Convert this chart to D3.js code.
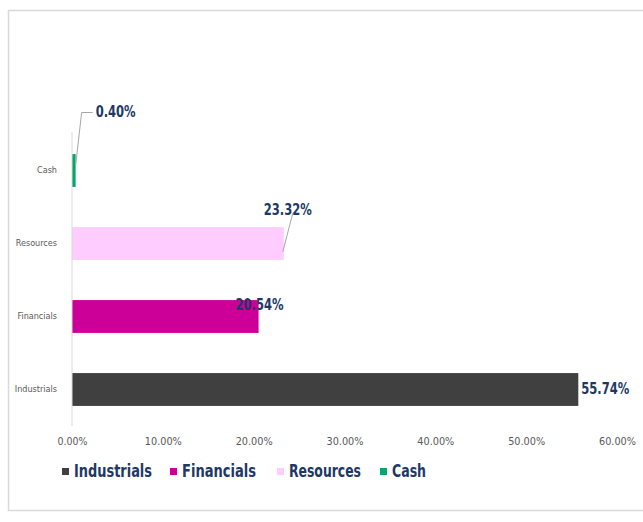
<!DOCTYPE html>
<html><head><meta charset="utf-8">
<script src="https://cdn.jsdelivr.net/npm/d3@7"></script>
<style>body{margin:0;background:#fff}svg{display:block}</style>
</head><body>
<svg id="c" width="643" height="522"></svg>
<script>
const categories = ["Industrials", "Financials", "Resources", "Cash"];
const values = [55.74, 20.54, 23.32, 0.40];
const colors = ["#404040", "#CC0099", "#FFCCFF", "#00A86B"];
const xTicks = [0, 10, 20, 30, 40, 50, 60];

const svg = d3.select("#c");
svg.append("rect").attr("x", 8.5).attr("y", 10.5).attr("width", 640).attr("height", 500)
  .attr("fill", "#fff").attr("stroke", "#d9d9d9").attr("stroke-width", 1.5);

const m = {left: 72, right: 617, top: 134, bottom: 426};
const x = d3.scaleLinear().domain([0, 60]).range([m.left, m.right]);
const y = d3.scaleBand().domain(categories.slice().reverse()).range([m.top, m.bottom]).paddingInner(0.55).paddingOuter(0.275);
const font = "'Liberation Sans Narrow', 'DejaVu Sans Condensed', 'Liberation Sans', sans-serif";

// bars
svg.selectAll("rect.bar").data(categories).enter().append("rect")
  .attr("class", "bar")
  .attr("x", x(0))
  .attr("y", d => y(d))
  .attr("width", (d, i) => x(values[i]) - x(0))
  .attr("height", y.bandwidth())
  .attr("fill", (d, i) => colors[i]);

// y axis line
svg.append("line").attr("x1", m.left).attr("x2", m.left).attr("y1", m.top - 2).attr("y2", m.bottom)
  .attr("stroke", "#d9d9d9").attr("stroke-width", 1);

// category labels
const yAxis = svg.append("g").attr("transform", `translate(${m.left},0)`)
  .call(d3.axisLeft(y).tickSize(0).tickPadding(15));
yAxis.select(".domain").remove();
yAxis.selectAll("text").attr("fill", "#595959").style("font-family", font).style("font-size", "9px");

// x axis labels
const xAxis = svg.append("g").attr("transform", `translate(0,${m.bottom})`)
  .call(d3.axisBottom(x).tickValues(xTicks).tickSize(0).tickPadding(11).tickFormat(d => d.toFixed(2) + "%"));
xAxis.select(".domain").remove();
xAxis.selectAll("text").attr("fill", "#595959").style("font-family", font).style("font-size", "11px")
  .attr("textLength", d => d === 0 ? 30 : 37).attr("lengthAdjust", "spacingAndGlyphs");

// data labels
const lbl = [
  {i: 0, dx: 3, dy: 0},
  {i: 1, dx: -23, dy: -11},
  {i: 2, dx: -20, dy: -33},
  {i: 3, dx: 20, dy: -58}
];
lbl.forEach(o => {
  const c = categories[o.i];
  const bx = x(values[o.i]);
  const by = y(c) + y.bandwidth() / 2;
  const t = values[o.i].toFixed(2) + "%";
  svg.append("text").attr("x", bx + o.dx).attr("y", by + o.dy)
    .attr("dominant-baseline", "middle")
    .attr("fill", "#203864").style("font-family", font).style("font-size", "15px").style("font-weight", "bold")
    .attr("textLength", t.length * 8).attr("lengthAdjust", "spacingAndGlyphs")
    .text(t);
});
// leader lines
const ly2 = y("Resources");
svg.append("path")
  .attr("d", `M${x(values[2]) - 1},${ly2 + y.bandwidth() * 0.75} L${x(values[2]) + 9},${ly2 - 14}`)
  .attr("fill", "none").attr("stroke", "#a6a6a6").attr("stroke-width", 1);
const ly3 = y("Cash") + y.bandwidth() / 2;
svg.append("path")
  .attr("d", `M${x(values[3])},${ly3 - 5} L${x(values[3]) + 6},${ly3 - 58} L${x(values[3]) + 17},${ly3 - 58}`)
  .attr("fill", "none").attr("stroke", "#a6a6a6").attr("stroke-width", 1);

// legend
const legX = [62, 170, 277, 380];
const legW = [78, 74, 72, 34];
const lg = svg.append("g");
categories.forEach((c, i) => {
  const g = lg.append("g").attr("transform", `translate(${legX[i]},472)`);
  g.append("rect").attr("x", 0).attr("y", -4).attr("width", 7).attr("height", 7).attr("fill", colors[i]);
  g.append("text").attr("x", 12).attr("y", 0).attr("dominant-baseline", "middle")
    .attr("fill", "#203864").style("font-family", font).style("font-size", "17px").style("font-weight", "bold")
    .attr("textLength", legW[i]).attr("lengthAdjust", "spacingAndGlyphs")
    .text(c);
});
</script>
</body></html>
